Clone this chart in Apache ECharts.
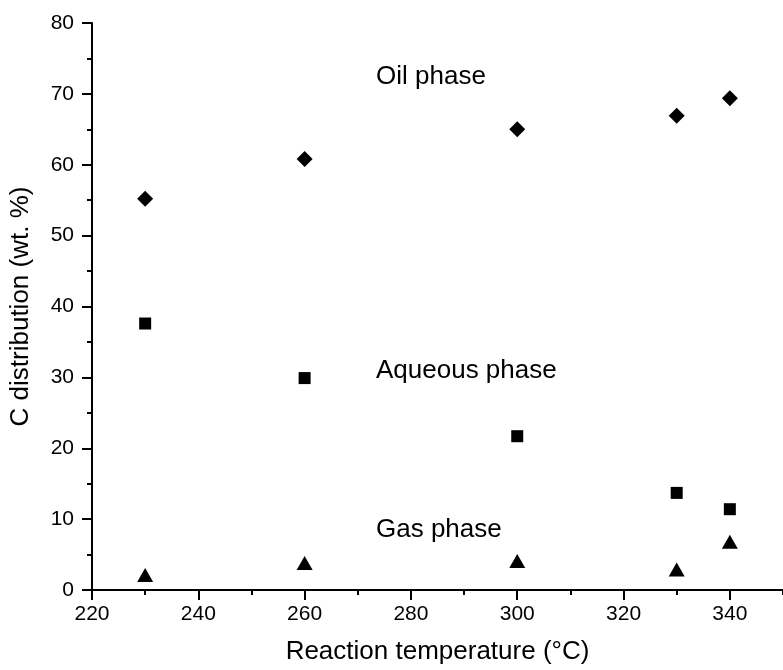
<!DOCTYPE html>
<html>
<head>
<meta charset="utf-8">
<script src="https://cdn.jsdelivr.net/npm/echarts@6/dist/echarts.min.js"></script>
<style>
html,body{margin:0;padding:0;background:#fff;}
#chart{width:783px;height:670px;}
</style>
</head>
<body>
<div id="chart"></div>
<script>
// Data
var temperatures = [230, 260, 300, 330, 340];
var oilPhase = [55.2, 60.8, 65.0, 66.9, 69.4];
var aqueousPhase = [37.6, 29.9, 21.7, 13.7, 11.4];
var gasPhase = [2.1, 3.8, 4.1, 2.9, 6.8];
var seriesNames = ['Oil phase', 'Aqueous phase', 'Gas phase'];
var xTitle = 'Reaction temperature (°C)';
var yTitle = 'C distribution (wt. %)';

function pairs(xs, ys) {
  return xs.map(function (x, i) { return [x, ys[i]]; });
}

var FONT = "'Liberation Sans', Arial, Helvetica, sans-serif";
var chart = echarts.init(document.getElementById('chart'), null, {renderer: 'canvas'});

var markerStyle = {color: '#000', opacity: 1};

var option = {
  backgroundColor: '#ffffff',
  animation: false,
  grid: {left: 91, right: -5, top: 23, bottom: 79, containLabel: false},
  xAxis: [{
    type: 'value', min: 220, max: 350, interval: 20,
    axisLine: {show: true, onZero: false, lineStyle: {color: '#000', width: 2}},
    axisTick: {show: true, inside: false, length: 10, lineStyle: {color: '#000', width: 2}},
    axisLabel: {show: true, margin: 14, color: '#000', fontSize: 21, fontFamily: FONT, showMaxLabel: false},
    splitLine: {show: false},
    name: xTitle, nameLocation: 'middle', nameGap: 49,
    nameTextStyle: {color: '#000', fontSize: 26, fontFamily: FONT}
  }, {
    type: 'value', min: 220, max: 350, interval: 10, position: 'bottom',
    axisLine: {show: false, onZero: false},
    axisTick: {show: true, inside: false, length: 5, lineStyle: {color: '#000', width: 2}},
    axisLabel: {show: false},
    splitLine: {show: false}
  }],
  yAxis: {
    type: 'value', min: 0, max: 80, interval: 10,
    axisLine: {show: true, onZero: false, lineStyle: {color: '#000', width: 2}},
    axisTick: {show: true, inside: false, length: 10, lineStyle: {color: '#000', width: 2}},
    minorTick: {show: true, splitNumber: 2, length: 5, lineStyle: {color: '#000', width: 2}},
    axisLabel: {show: true, margin: 18, color: '#000', fontSize: 21, fontFamily: FONT},
    splitLine: {show: false},
    minorSplitLine: {show: false},
    name: yTitle, nameLocation: 'middle', nameGap: 58, nameRotate: 90,
    nameTextStyle: {color: '#000', fontSize: 26, fontFamily: FONT}
  },
  series: [{
    name: seriesNames[0], type: 'scatter', xAxisIndex: 0,
    symbol: 'diamond', symbolSize: 16,
    itemStyle: markerStyle,
    data: pairs(temperatures, oilPhase)
  }, {
    name: seriesNames[1], type: 'scatter', xAxisIndex: 0,
    symbol: 'rect', symbolSize: 12,
    itemStyle: markerStyle,
    data: pairs(temperatures, aqueousPhase)
  }, {
    name: seriesNames[2], type: 'scatter', xAxisIndex: 0,
    symbol: 'triangle', symbolSize: [16, 14],
    itemStyle: markerStyle,
    data: pairs(temperatures, gasPhase)
  }],
  graphic: [
    {type: 'text', x: 376, y: 77, style: {text: seriesNames[0], fill: '#000', fontSize: 26, fontFamily: FONT, verticalAlign: 'middle'}},
    {type: 'text', x: 376, y: 371, style: {text: seriesNames[1], fill: '#000', fontSize: 26, fontFamily: FONT, verticalAlign: 'middle'}},
    {type: 'text', x: 376, y: 530, style: {text: seriesNames[2], fill: '#000', fontSize: 26, fontFamily: FONT, verticalAlign: 'middle'}}
  ]
};
chart.setOption(option);
</script>
</body>
</html>
